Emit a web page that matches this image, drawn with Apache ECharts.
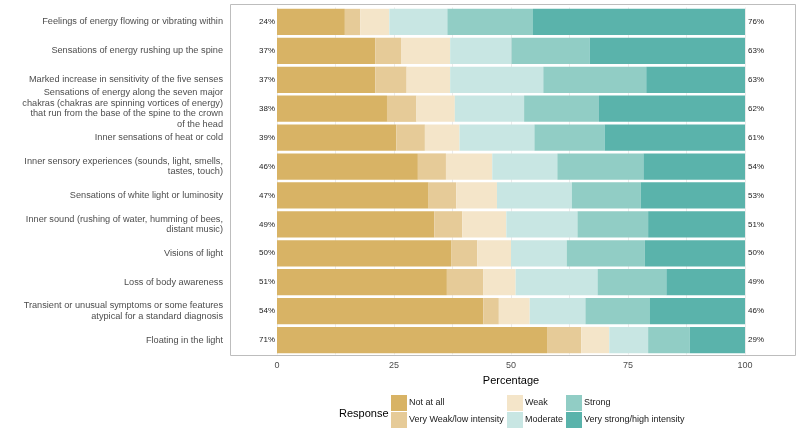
<!DOCTYPE html>
<html>
<head>
<meta charset="utf-8">
<script src="https://cdn.jsdelivr.net/npm/echarts@6/dist/echarts.min.js"></script>
<style>
html, body { margin: 0; padding: 0; background: #fff; }
#chart { width: 800px; height: 447px; }
</style>
</head>
<body>
<div id="chart"></div>
<script>
var categories = [
	'Feelings of energy flowing or vibrating within',
	'Sensations of energy rushing up the spine',
	'Marked increase in sensitivity of the five senses',
	'Sensations of energy along the seven major\nchakras (chakras are spinning vortices of energy)\nthat run from the base of the spine to the crown\nof the head',
	'Inner sensations of heat or cold',
	'Inner sensory experiences (sounds, light, smells,\ntastes, touch)',
	'Sensations of white light or luminosity',
	'Inner sound (rushing of water, humming of bees,\ndistant music)',
	'Visions of light',
	'Loss of body awareness',
	'Transient or unusual symptoms or some features\natypical for a standard diagnosis',
	'Floating in the light'
];
var responses = ['Not at all', 'Very Weak/low intensity', 'Weak', 'Moderate', 'Strong', 'Very strong/high intensity'];
var colors = ['#D8B365', '#E6CB98', '#F4E5C9', '#C8E6E3', '#91CDC5', '#5AB3AB'];

var notAtAll = [14.5, 21.0, 21.0, 23.5, 25.5, 30.1, 32.4, 33.6, 37.2, 36.3, 44.1, 57.7];
var veryWeak = [3.3, 5.5, 6.7, 6.3, 6.1, 6.0, 5.9, 6.0, 5.6, 7.8, 3.3, 7.3];
var weak = [6.2, 10.5, 9.3, 8.2, 7.4, 9.9, 8.7, 9.4, 7.2, 6.9, 6.6, 6.0];
var moderate = [12.4, 13.1, 19.9, 14.8, 16.0, 13.9, 16.0, 15.2, 11.9, 17.5, 11.9, 8.3];
var strong = [18.3, 16.7, 22.0, 16.0, 15.0, 18.4, 14.7, 15.1, 16.7, 14.7, 13.8, 8.9];
var veryStrong = [45.3, 33.2, 21.1, 31.2, 30.0, 21.7, 22.3, 20.7, 21.4, 16.8, 20.3, 11.8];

var seriesData = [notAtAll, veryWeak, weak, moderate, strong, veryStrong];

// low / high totals shown beside the bars
var lowLabels = [], highLabels = [];
for (var i = 0; i < categories.length; i++) {
	lowLabels.push(Math.round(notAtAll[i] + veryWeak[i] + weak[i]) + '%');
	highLabels.push(Math.round(moderate[i] + strong[i] + veryStrong[i]) + '%');
}

var font = "'Liberation Sans', Arial, sans-serif";
var chart = echarts.init(document.getElementById('chart'));

var series = [];
for (var s = 0; s < responses.length; s++) {
	series.push({
		name: responses[s],
		type: 'bar',
		stack: 'total',
		yAxisIndex: 0,
		barCategoryGap: '9%',
		itemStyle: { color: colors[s] },
		emphasis: { disabled: true },
		data: seriesData[s]
	});
}

function legendBlock(items, left) {
	return {
		orient: 'vertical',
		left: left,
		top: 395,
		padding: 0,
		itemWidth: 16,
		itemHeight: 16,
		itemGap: 1,
		icon: 'rect',
		selectedMode: false,
		textStyle: { fontFamily: font, fontSize: 9, color: '#1a1a1a', padding: [0, 0, 0, -3] },
		data: items
	};
}

var option = {
	animation: false,
	backgroundColor: '#fff',
	title: {
		text: 'Response',
		left: 334,
		top: 403,
		textStyle: { fontFamily: font, fontSize: 11, fontWeight: 'normal', color: '#000' }
	},
	legend: [
		legendBlock([responses[0], responses[1]], 391),
		legendBlock([responses[2], responses[3]], 507),
		legendBlock([responses[4], responses[5]], 566)
	],
	graphic: [{
		type: 'rect',
		shape: { x: 230.5, y: 4.5, width: 565, height: 351 },
		style: { fill: 'none', stroke: '#BDBDBD', lineWidth: 1 },
		silent: true
	}],
	grid: {
		left: 277,
		right: 55,
		top: 7.5,
		bottom: 92.5
	},
	xAxis: {
		type: 'value',
		min: 0,
		max: 100,
		interval: 12.5,
		name: 'Percentage',
		nameLocation: 'middle',
		nameGap: 10,
		nameTextStyle: { fontFamily: font, fontSize: 11, color: '#000' },
		axisLine: { show: false },
		axisTick: { show: false },
		axisLabel: {
			margin: 7,
			fontFamily: font,
			fontSize: 9,
			color: '#4D4D4D',
			formatter: function(v) {
				return v % 25 === 0 ? String(v) : '';
			}
		},
		splitLine: { show: true, lineStyle: { color: '#EBEBEB', width: 1 } }
	},
	yAxis: [{
		type: 'category',
		inverse: true,
		data: categories,
		position: 'left',
		offset: 46,
		axisLine: { show: false },
		axisTick: { show: false },
		axisLabel: {
			margin: 8,
			fontFamily: font,
			fontSize: 9.2,
			lineHeight: 10.5,
			color: '#4D4D4D',
			align: 'right'
		}
	}, {
		type: 'category',
		inverse: true,
		data: lowLabels,
		position: 'left',
		axisLine: { show: false },
		axisTick: { show: false },
		axisLabel: { margin: 2, fontFamily: font, fontSize: 8, color: '#1a1a1a' }
	}, {
		type: 'category',
		inverse: true,
		data: highLabels,
		position: 'right',
		axisLine: { show: false },
		axisTick: { show: false },
		axisLabel: { margin: 3, fontFamily: font, fontSize: 8, color: '#1a1a1a' }
	}],
	series: series
};
chart.setOption(option);
</script>
</body>
</html>
